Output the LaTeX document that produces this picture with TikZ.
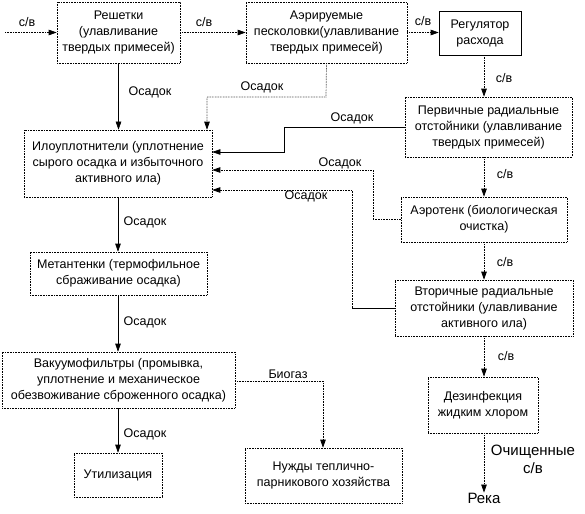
\documentclass[tikz,border=0pt]{standalone}
\usepackage{fontspec}
\setmainfont{Liberation Sans}
\usetikzlibrary{arrows.meta}
\newcommand{\fs}{\fontsize{12.5}{16}\selectfont}
\newcommand{\fb}{\fontsize{15}{18}\selectfont}
\begin{document}
\begin{tikzpicture}[x=1pt,y=-1pt,
  box/.style={draw=black, densely dotted, line width=0.6pt, align=center, inner sep=0pt, font=\fs},
  sbox/.style={box, solid},
  ar/.style={-{Triangle[length=8pt,width=5.5pt]}, line width=0.6pt},
  sl/.style={ar, solid, black},
  dl/.style={ar, densely dotted, black, line width=0.7pt},
  pl/.style={line width=0.6pt, solid, black},
  lb/.style={font=\fs, inner sep=0pt, align=center},
  lbb/.style={font=\fb, inner sep=0pt, align=center}]
\useasboundingbox (0,0) rectangle (585,513);

% boxes
\node[box, minimum width=123pt, minimum height=61pt] (resh) at (118.5,32.5) {Решетки\\(улавливание\\твердых примесей)};
\node[box, minimum width=161pt, minimum height=61pt] (pesk) at (326.5,32.5) {Аэрируемые\\песколовки(улавливание\\твердых примесей)};
\node[sbox, minimum width=82pt, minimum height=44pt] (reg) at (480,33) {Регулятор\\расхода};
\node[box, minimum width=167pt, minimum height=60pt] (perv) at (488.5,127) {Первичные радиальные\\отстойники (улавливание\\твердых примесей)};
\node[box, minimum width=188pt, minimum height=67pt] (ilo) at (118,163.5) {Илоуплотнители (уплотнение\\сырого осадка и избыточного\\активного ила)};
\node[box, minimum width=166pt, minimum height=45pt] (aero) at (484,219.5) {Аэротенк (биологическая\\очистка)};
\node[box, minimum width=178pt, minimum height=56pt] (vtor) at (484,308) {Вторичные радиальные\\отстойники (улавливание\\активного ила)};
\node[box, minimum width=177pt, minimum height=43pt] (met) at (118.5,273.5) {Метантенки (термофильное\\сбраживание осадка)};
\node[box, minimum width=233pt, minimum height=56pt] (vak) at (118.5,380) {Вакуумофильтры (промывка,\\уплотнение и механическое\\обезвоживание сброженного осадка)};
\node[box, minimum width=88pt, minimum height=44pt] (util) at (118,475) {Утилизация};
\node[box, minimum width=157pt, minimum height=55pt] (nuzh) at (323.5,475.5) {Нужды теплично-\\парникового хозяйства};
\node[box, minimum width=110pt, minimum height=56pt] (dez) at (483,405) {Дезинфекция\\жидким хлором};
\node[lbb] (reka) at (484,498) {Река};

\coordinate (in0) at (5,32.5);
\coordinate (cx) at (484,0);

% water line
\draw[dl] (in0) -- (resh.west);
\draw[dl] (resh.east) -- (pesk.west);
\draw[dl] (pesk.east) -- (reg.west |- pesk.east);
\draw[dl] (reg.south -| cx) -- (perv.north -| cx);
\draw[dl] (perv.south -| cx) -- (aero.north -| cx);
\draw[dl] (aero.south -| cx) -- (vtor.north -| cx);
\draw[dl] (vtor.south -| cx) -- (dez.north -| cx);
\draw[dl] (dez.south -| cx) -- (reka.north -| cx);

\node[lb] (l1) at (27,22) {с/в};
\node[lb] (l2) at (204,22) {с/в};
\node[lb] (l3) at (423,21) {с/в};
\node[lb] (l4) at (504,78) {с/в};
\node[lb] (l5) at (505,174) {с/в};
\node[lb] (l6) at (505,262) {с/в};
\node[lb] (l7) at (506,356) {с/в};
\node[lbb] (l8) at (533,459) {Очищенные\\с/в};

% sludge
\draw[sl] (resh.south) -- (ilo.north -| resh.south);
\draw[dl] (pesk.south) -- (326,97) -- (207,97) -- (ilo.north -| 207,0);
\draw[sl] (perv.west) -- (284,127) -- (284,152) -- (ilo.east |- 0,152);
\draw[dl] (aero.west) -- (373,219.5) -- (373,170) -- (ilo.east |- 0,170);
\draw[pl] (vtor.west) -- (352,308);
\draw[dl] (352,308) -- (352,190) -- (ilo.east |- 0,190);
\draw[sl] (ilo.south -| 118,0) -- (met.north -| 118,0);
\draw[sl] (met.south -| 118,0) -- (vak.north -| 118,0);
\draw[sl] (vak.south -| 118,0) -- (util.north -| 118,0);
\draw[dl] (vak.east |- 0,381) -- (323,381) -- (nuzh.north -| 323,0);

\node[lb] (o1) at (150,92) {Осадок};
\node[lb] (o2) at (262,87) {Осадок};
\node[lb] (o3) at (352,118) {Осадок};
\node[lb] (o4) at (340,163) {Осадок};
\node[lb] (o5) at (306,196) {Осадок};
\node[lb] (o6) at (145,222) {Осадок};
\node[lb] (o7) at (145,322) {Осадок};
\node[lb] (o8) at (145,434) {Осадок};
\node[lb] (bg) at (288,374) {Биогаз};
\end{tikzpicture}
\end{document}
